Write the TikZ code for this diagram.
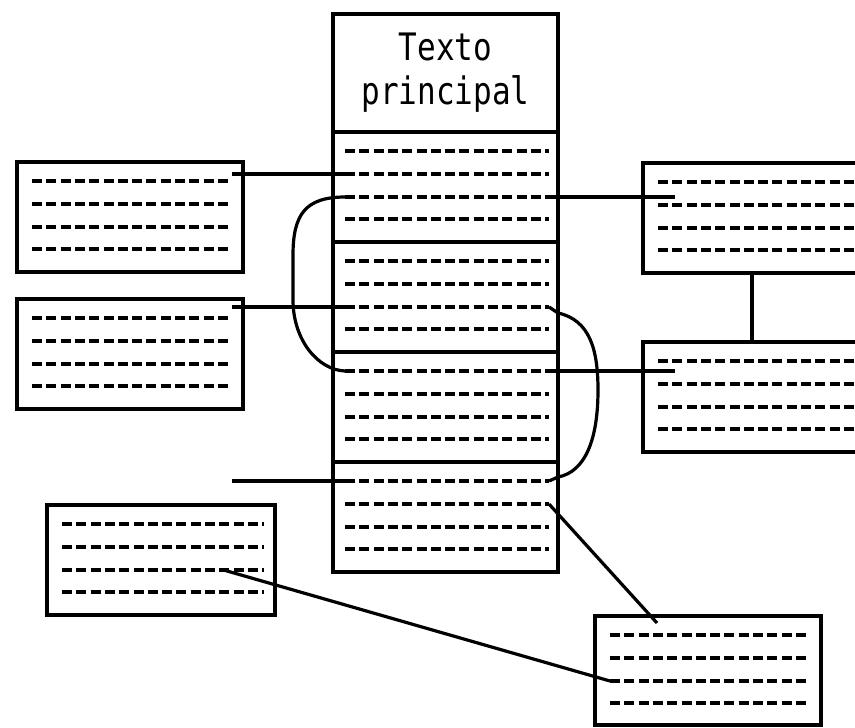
\documentclass[tikz,border=0pt]{standalone}
\usepackage{fontspec}
\usepackage{graphicx}
\usetikzlibrary{positioning, calc}
\newfontfamily\titlefont{DejaVu Sans Mono}

\tikzset{
  card/.style={draw, rectangle, line width=3.6pt, anchor=north west, inner sep=0pt,
    outer sep=0pt, minimum width=226pt, minimum height=110pt},
  txtline/.style={line width=3.4pt, dash pattern=on 10pt off 4.3pt},
  link/.style={line width=3.2pt},
}
% four dashed text lines in a box, ends named <box>-<i>w and <box>-<i>e
\newcommand{\cardlines}[3]{%
  \foreach \i/\dy in {1/19,2/42,3/65,4/87} {
    \coordinate (#1-\i w) at ($(#1.north west)+(#2,\dy)$);
    \coordinate (#1-\i e) at ($(#1.north east)+(-#3,\dy)$);
    \draw[txtline] (#1-\i w) -- (#1-\i e);
  }}

\begin{document}
\begin{tikzpicture}[x=1pt, y=-1pt]
  \path[fill=white, use as bounding box] (0,0) rectangle (855,728);
  % main column
  \node[card, minimum width=225pt, minimum height=118pt, align=center,
    font={\titlefont\fontsize{31}{44}\selectfont}] (T) at (333,14)
    {\scalebox{1}[1.22]{Texto}\\\scalebox{1}[1.22]{principal}};
  \node[card, minimum width=225pt, below=0pt of T] (S1) {};
  \node[card, minimum width=225pt, below=0pt of S1] (S2) {};
  \node[card, minimum width=225pt, below=0pt of S2] (S3) {};
  \node[card, minimum width=225pt, below=0pt of S3] (S4) {};
  \foreach \s in {S1,S2,S3,S4} {\cardlines{\s}{12}{9}}

  % side boxes
  \node[card] (L1) at (17,162) {};
  \node[card] (L2) at (17,299) {};
  \node[card, minimum width=228pt] (L3) at (47,505) {};
  \node[card, minimum width=240pt] (R1) at (643,163) {};
  \node[card, minimum width=240pt] (R2) at (643,342) {};
  \node[card, minimum height=109pt] (B) at (595,616) {};
  \foreach \s in {L1,L2,L3,R1,R2,B} {\cardlines{\s}{15}{11}}

  % links
  \coordinate (L1-out) at (S1-2w -| L1-1e);
  \coordinate (L2-out) at (S2-3w -| L2-1e);
  \coordinate (loose) at (S4-1w -| L2-1e);
  \coordinate (R1-in) at ($(S1-3e -| R1.west)+(32,0)$);
  \coordinate (R2-in) at ($(S3-1e -| R2.west)+(32,0)$);
  \coordinate (L3-out) at ($(L3-3w)!0.8!(L3-3e)$);
  \coordinate (B-in) at ($(B.north west)+(62,7)$);

  \draw[link] (L1-out) -- (S1-2w);
  \draw[link] (L2-out) -- (S2-3w);
  \draw[link] (loose) -- (S4-1w);
  \draw[link] (S1-3e) -- (R1-in);
  \draw[link] (S3-1e) -- (R2-in);
  \draw[link] ($(R1.south west)+(109,0)$) -- ($(R2.north west)+(109,0)$);
  \draw[link] (S1-3w) .. controls (305,197) and (293,215) .. (293,255)
    -- (293,300) .. controls (293,340) and (318,370) .. (S3-1w);
  \draw[link] (S2-3e) -- ($(S2-3e)+(9,6)$) .. controls (590,320) and (598,350) .. (598,390)
    .. controls (598,440) and (585,472) .. ($(S4-1e)+(9,-4)$) -- (S4-1e);
  \draw[link] (L3-out) -- (B-3w);
  \draw[link] (S4-2e) -- (B-in);
\end{tikzpicture}
\end{document}
